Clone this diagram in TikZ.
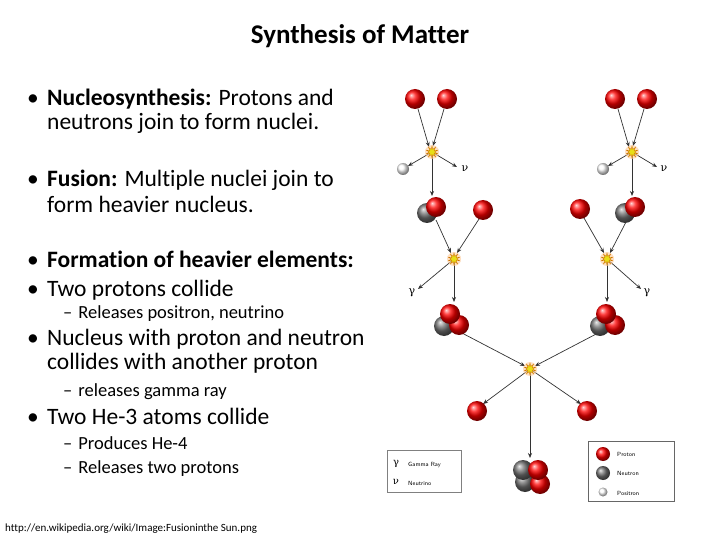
\documentclass[tikz,border=0pt]{standalone}
\usepackage{fontspec}
\setmainfont[Ligatures=NoCommon]{Carlito}
\newfontfamily\dv{DejaVu Serif}
\usetikzlibrary{arrows.meta,shapes.geometric}
\begin{document}
\begin{tikzpicture}[x=1pt,y=-1pt,
  txt/.style={anchor=base west,font=\fontsize{23.5}{24}\selectfont,inner sep=0},
  sub/.style={anchor=base west,font=\fontsize{18.5}{19}\selectfont,inner sep=0},
  arr/.style={-{Stealth[length=5pt,width=4pt]},black!80,line width=0.7pt},
  lbl/.style={font=\dv\fontsize{11}{11}\selectfont,inner sep=1pt}]
\useasboundingbox (0,0) rectangle (720,540);
\fill[white] (0,0) rectangle (720,540);
\newcommand{\pro}[2]{\shade[ball color=red] (#1,#2) circle (10);}
\newcommand{\neu}[2]{\shade[ball color=black!55] (#1,#2) circle (10);}
\newcommand{\pos}[2]{\shade[ball color=white] (#1,#2) circle (6);}
\newcommand{\flash}[2]{\fill[orange!40,opacity=0.6] (#1,#2) circle (7);
  \node[star,star points=10,star point ratio=2.2,fill=yellow!90!black,draw=orange!80!black,line width=0.3pt,minimum size=12pt,inner sep=0] at (#1,#2) {};}
% title
\node[font=\bfseries\fontsize{27}{28}\selectfont] (title) at (360,36) {Synthesis of Matter};
% text
\node[txt] (b1) at (27,106) {\textbullet};
\node[txt] (l1) at (47,106) {\textbf{Nucleosynthesis:} Protons and};
\node[txt] (l1b) at (47,130) {neutrons join to form nuclei.};
\node[txt] (b2) at (27,187) {\textbullet};
\node[txt] (l2) at (47,187) {\textbf{Fusion:} Multiple nuclei join to};
\node[txt] (l2b) at (47,212) {form heavier nucleus.};
\node[txt] (b3) at (27,267) {\textbullet};
\node[txt] (l3) at (47,267) {\textbf{Formation of heavier elements:}};
\node[txt] (b4) at (27,296) {\textbullet};
\node[txt] (l4) at (47,296) {Two protons collide};
\node[sub] (s1) at (63,318) {–\hspace{6pt}Releases positron, neutrino};
\node[txt] (b5) at (27,345) {\textbullet};
\node[txt] (l5) at (47,345) {Nucleus with proton and neutron};
\node[txt] (l5b) at (47,369) {collides with another proton};
\node[sub] (s2) at (63,396) {–\hspace{6pt}releases gamma ray};
\node[txt] (b6) at (27,424) {\textbullet};
\node[txt] (l6) at (47,424) {Two He-3 atoms collide};
\node[sub] (s3) at (63,449) {–\hspace{6pt}Produces He-4};
\node[sub] (s4) at (63,473) {–\hspace{6pt}Releases two protons};
\node[anchor=base west,font=\fontsize{11}{12}\selectfont,inner sep=0] (url) at (5,531) {http://en.wikipedia.org/wiki/Image:Fusioninthe Sun.png};
% diagram coordinates
\coordinate (p1) at (415,99); \coordinate (p2) at (447,99);
\coordinate (s1c) at (432,152);
\coordinate (e1) at (403,169); \coordinate (v1) at (462,168);
\coordinate (fp1) at (483,210);
\coordinate (s2c) at (454,259); \coordinate (g1) at (414,292);
\coordinate (p3) at (615,99); \coordinate (p4) at (647,99);
\coordinate (s3c) at (632,152);
\coordinate (e2) at (603,169); \coordinate (v2) at (662,168);
\coordinate (fp2) at (580,209);
\coordinate (s4c) at (607,259); \coordinate (g2) at (645,292);
\coordinate (s5c) at (530,369);
\coordinate (fp3) at (477,411); \coordinate (fp4) at (587,411);
% arrows
\draw[arr] (p1) ++(3,10) -- ([shift={(-3,-5)}]s1c);
\draw[arr] (p2) ++(-3,10) -- ([shift={(1,-6)}]s1c);
\draw[arr] (s1c) -- ([shift={(5,-3)}]e1);
\draw[arr] (s1c) -- ([shift={(-5,-1)}]v1);
\draw[arr] (s1c) -- (432,196);
\draw[arr] (436,220) -- ([shift={(-3,-6)}]s2c);
\draw[arr] (fp1) ++(-4,9) -- ([shift={(3,-6)}]s2c);
\draw[arr] (s2c) -- ([shift={(4,-3)}]g1);
\draw[arr] (s2c) -- (454,302);
\draw[arr] (p3) ++(3,10) -- ([shift={(-3,-5)}]s3c);
\draw[arr] (p4) ++(-3,10) -- ([shift={(1,-6)}]s3c);
\draw[arr] (s3c) -- ([shift={(5,-3)}]e2);
\draw[arr] (s3c) -- ([shift={(-5,-1)}]v2);
\draw[arr] (s3c) -- (632,196);
\draw[arr] (fp2) ++(4,9) -- ([shift={(-3,-6)}]s4c);
\draw[arr] (626,222) -- ([shift={(3,-6)}]s4c);
\draw[arr] (s4c) -- ([shift={(-4,-3)}]g2);
\draw[arr] (s4c) -- (607,302);
\draw[arr] (460,332) -- ([shift={(-5,-3)}]s5c);
\draw[arr] (600,332) -- ([shift={(5,-3)}]s5c);
\draw[arr] (s5c) -- ([shift={(6,-7)}]fp3);
\draw[arr] (s5c) -- ([shift={(-6,-7)}]fp4);
\draw[arr] (s5c) -- (530,458);
% flashes
\flash{432}{152}\flash{632}{152}\flash{454}{259}\flash{607}{259}\flash{530}{369}
% particles
\pro{415}{99}\pro{447}{99}\pro{615}{99}\pro{647}{99}
\pos{403}{169}\pos{603}{169}
\node[lbl] (nu1) at (465,169) {ν}; \node[lbl] (nu2) at (664,169) {ν};
\node[lbl] (ga1) at (412,293) {γ}; \node[lbl] (ga2) at (647,293) {γ};
\neu{427}{213}\pro{436}{207}\pro{483}{210}
\neu{625}{213}\pro{635}{207}\pro{580}{209}
\neu{444}{326}\pro{459}{325}\pro{450}{314}
\neu{600}{326}\pro{615}{325}\pro{606}{314}
\pro{477}{411}\pro{587}{411}
\neu{525}{482}\pro{540}{484}\neu{523}{470}\pro{538}{470}
% legends
\draw[black!50,line width=0.7pt] (387,450) rectangle (461,492);
\node[lbl,font=\dv\fontsize{10}{10}\selectfont] (lg) at (396,464) {γ};
\node[anchor=west,font=\sffamily\fontsize{6}{6}\selectfont,inner sep=0] (lgt) at (408,465) {Gamma Ray};
\node[lbl,font=\dv\fontsize{10}{10}\selectfont] (lv) at (396,482) {ν};
\node[anchor=west,font=\sffamily\fontsize{6}{6}\selectfont,inner sep=0] (lvt) at (408,483) {Neutrino};
\draw[black!60,line width=0.7pt] (588,441) rectangle (674,501);
\shade[ball color=red] (603,454) circle (7);
\node[anchor=west,font=\sffamily\fontsize{6}{6}\selectfont,inner sep=0] (lp) at (617,454) {Proton};
\shade[ball color=black!55] (603,473) circle (7);
\node[anchor=west,font=\sffamily\fontsize{6}{6}\selectfont,inner sep=0] (ln) at (617,473) {Neutron};
\shade[ball color=white] (603,492) circle (4.5);
\node[anchor=west,font=\sffamily\fontsize{6}{6}\selectfont,inner sep=0] (lps) at (617,493) {Positron};
\end{tikzpicture}
\end{document}
